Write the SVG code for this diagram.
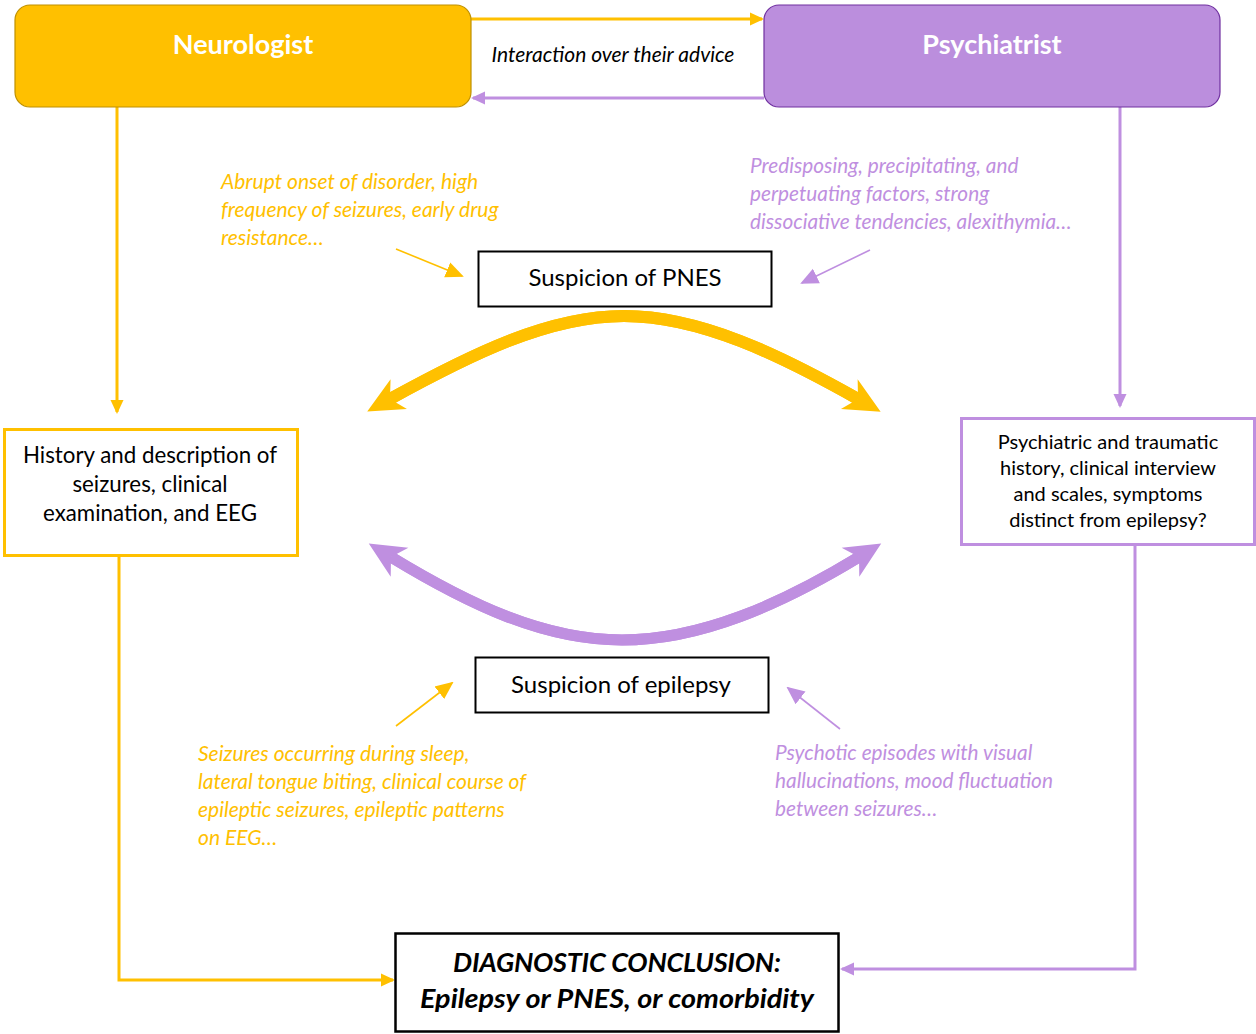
<svg xmlns="http://www.w3.org/2000/svg" width="1256" height="1034" viewBox="0 0 1256 1034">
<defs>
<style>
text{font-family:Lato,"Open Sans","Liberation Sans",sans-serif}
.title{font-size:27px;font-weight:bold;fill:#fff;text-anchor:middle}
.box{fill:#fff}
.body{font-size:22.3px;fill:#000;text-anchor:middle}
.body2{font-size:20px;fill:#000;text-anchor:middle}
.noteY{font-size:21px;font-style:italic;fill:#FFC000}
.noteP{font-size:20.8px;font-style:italic;fill:#BF8FE0}
.lineY{fill:none;stroke:#FFC000;stroke-width:3}
.lineP{fill:none;stroke:#BF8FE0;stroke-width:3}
.thinY{fill:none;stroke:#FFC000;stroke-width:1.6}
.thinP{fill:none;stroke:#BF8FE0;stroke-width:1.6}
.arcY{fill:none;stroke:#FFC000;stroke-width:12}
.arcP{fill:none;stroke:#BF8FE0;stroke-width:11}
</style>
<marker id="hY" viewBox="-12 -7 14 14" refX="0" refY="0" markerWidth="14" markerHeight="14" markerUnits="userSpaceOnUse" orient="auto"><path d="M2,0 L-12,-6.5 L-12,6.5 Z" fill="#FFC000"/></marker>
<marker id="hP" viewBox="-12 -7 14 14" refX="0" refY="0" markerWidth="14" markerHeight="14" markerUnits="userSpaceOnUse" orient="auto"><path d="M2,0 L-12,-6.5 L-12,6.5 Z" fill="#BF8FE0"/></marker>
<marker id="sY" viewBox="-16 -9 18 18" refX="0" refY="0" markerWidth="18" markerHeight="18" markerUnits="userSpaceOnUse" orient="auto"><path d="M2,0 L-16,-8 L-16,8 Z" fill="#FFC000"/></marker>
<marker id="sP" viewBox="-16 -9 18 18" refX="0" refY="0" markerWidth="18" markerHeight="18" markerUnits="userSpaceOnUse" orient="auto"><path d="M2,0 L-16,-8 L-16,8 Z" fill="#BF8FE0"/></marker>
<marker id="bY" viewBox="-12 -19 40 38" refX="0" refY="0" markerWidth="40" markerHeight="38" markerUnits="userSpaceOnUse" orient="auto"><path d="M26,0 L-10,-17 L0,0 L-10,17 Z" fill="#FFC000"/></marker>
<marker id="bP" viewBox="-12 -19 40 38" refX="0" refY="0" markerWidth="40" markerHeight="38" markerUnits="userSpaceOnUse" orient="auto"><path d="M26,0 L-10,-17 L0,0 L-10,17 Z" fill="#BF8FE0"/></marker>
</defs>

<g id="connectors">
<line class="lineY" x1="471" y1="19" x2="762" y2="19" marker-end="url(#hY)"/>
<line class="lineP" x1="764" y1="98" x2="473" y2="98" marker-end="url(#hP)"/>
<line class="lineY" x1="117" y1="107" x2="117" y2="412" marker-end="url(#hY)"/>
<line class="lineP" x1="1120" y1="100" x2="1120" y2="406" marker-end="url(#hP)"/>
<polyline class="lineY" points="119,556 119,980 393,980" marker-end="url(#hY)"/>
<polyline class="lineP" points="1135,545 1135,969 842,969" marker-end="url(#hP)"/>
<line class="thinY" x1="396" y1="249" x2="462" y2="276" marker-end="url(#sY)"/>
<line class="thinP" x1="870" y1="250" x2="802" y2="283" marker-end="url(#sP)"/>
<line class="thinY" x1="396" y1="726" x2="452" y2="683" marker-end="url(#sY)"/>
<line class="thinP" x1="840" y1="729" x2="788" y2="688" marker-end="url(#sP)"/>
<path class="arcY" d="M858,399 C780,355 700,316 624,316 C548,316 470,355 390,399" marker-end="url(#bY)"/>
<path class="arcY" d="M390,399 C470,355 548,316 624,316 C700,316 780,355 858,399" marker-end="url(#bY)"/>
<path class="arcP" d="M859,557 C780,605 700,640 622,640 C544,640 470,605 391,557" marker-end="url(#bP)"/>
<path class="arcP" d="M391,557 C470,605 544,640 622,640 C700,640 780,605 859,557" marker-end="url(#bP)"/>
</g>

<g id="neurologist">
<rect x="15" y="5" width="456" height="102" rx="15" fill="#FFC000" stroke="#BF9000" stroke-width="1.2"/>
<text class="title" x="243" y="54">Neurologist</text>
</g>
<g id="psychiatrist">
<rect x="764" y="5" width="456" height="102" rx="15" fill="#BB8EDD" stroke="#7030A0" stroke-width="1.2"/>
<text class="title" x="992" y="54">Psychiatrist</text>
</g>
<g id="interaction-label">
<text x="613" y="62" font-size="21" font-style="italic" fill="#000" text-anchor="middle">Interaction over their advice</text>
</g>

<g id="history">
<rect class="box" x="4.5" y="429.5" width="293" height="126" stroke="#FFC000" stroke-width="3"/>
<text class="body" x="150" y="463">History and description of</text>
<text class="body" x="150" y="492">seizures, clinical</text>
<text class="body" x="150" y="521">examination, and EEG</text>
</g>
<g id="psych-history">
<rect class="box" x="961.5" y="418.5" width="293" height="126" stroke="#BF8FE0" stroke-width="3"/>
<text class="body2" x="1108" y="449">Psychiatric and traumatic</text>
<text class="body2" x="1108" y="475">history, clinical interview</text>
<text class="body2" x="1108" y="501">and scales, symptoms</text>
<text class="body2" x="1108" y="527">distinct from epilepsy?</text>
</g>

<g id="susp-pnes">
<rect class="box" x="478.5" y="251.5" width="293" height="55" stroke="#000" stroke-width="2"/>
<text x="625" y="286" font-size="24" text-anchor="middle" fill="#000">Suspicion of PNES</text>
</g>
<g id="susp-epilepsy">
<rect class="box" x="475.5" y="657.5" width="293" height="55" stroke="#000" stroke-width="2"/>
<text x="621" y="693" font-size="24" text-anchor="middle" fill="#000">Suspicion of epilepsy</text>
</g>

<g id="note-pnes-neuro">
<text class="noteY" x="221" y="189">Abrupt onset of disorder, high</text>
<text class="noteY" x="221" y="217">frequency of seizures, early drug</text>
<text class="noteY" x="221" y="245">resistance…</text>
</g>
<g id="note-pnes-psych">
<text class="noteP" x="750" y="173">Predisposing, precipitating, and</text>
<text class="noteP" x="750" y="201">perpetuating factors, strong</text>
<text class="noteP" x="750" y="229">dissociative tendencies, alexithymia…</text>
</g>
<g id="note-epi-neuro">
<text class="noteY" x="198" y="761">Seizures occurring during sleep,</text>
<text class="noteY" x="198" y="789">lateral tongue biting, clinical course of</text>
<text class="noteY" x="198" y="817">epileptic seizures, epileptic patterns</text>
<text class="noteY" x="198" y="845">on EEG…</text>
</g>
<g id="note-epi-psych">
<text class="noteP" x="775" y="760">Psychotic episodes with visual</text>
<text class="noteP" x="775" y="788">hallucinations, mood fluctuation</text>
<text class="noteP" x="775" y="816">between seizures…</text>
</g>

<g id="conclusion">
<rect class="box" x="395.5" y="933.5" width="443" height="98" stroke="#000" stroke-width="2.5"/>
<text x="617" y="972" font-size="27" font-weight="bold" font-style="italic" text-anchor="middle" fill="#000" textLength="328" lengthAdjust="spacing">DIAGNOSTIC CONCLUSION:</text>
<text x="617" y="1008" font-size="27" font-weight="bold" font-style="italic" text-anchor="middle" fill="#000" textLength="394" lengthAdjust="spacingAndGlyphs">Epilepsy or PNES, or comorbidity</text>
</g>
</svg>
